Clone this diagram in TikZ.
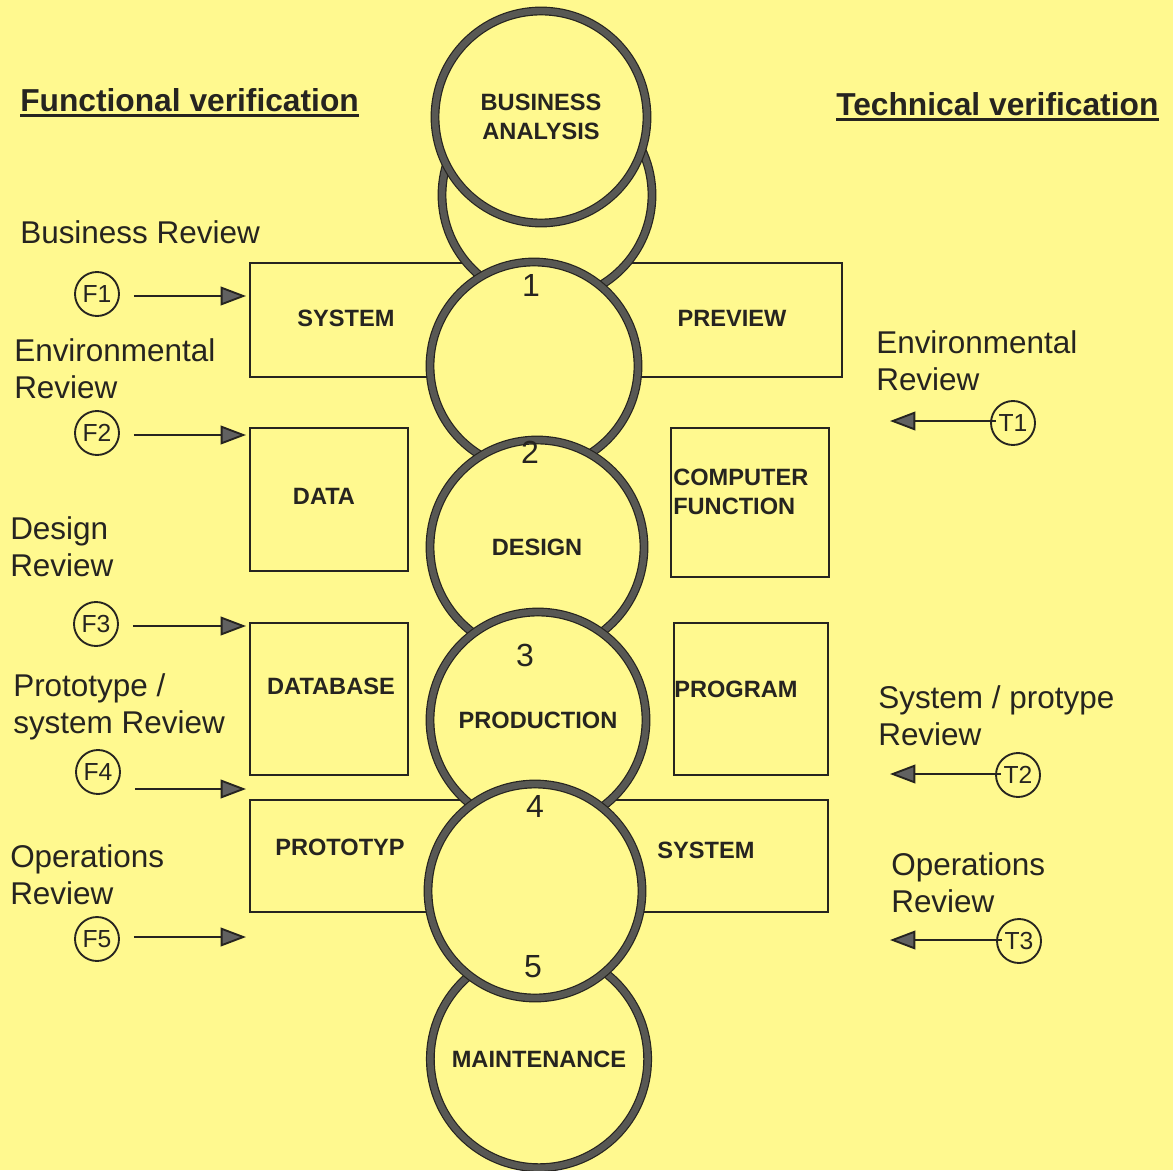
\documentclass[tikz,border=0pt]{standalone}
\usepackage{fontspec}
\setmainfont{Liberation Sans}
\usetikzlibrary{arrows.meta,calc}
\definecolor{bg}{HTML}{FFF98F}
\definecolor{ringc}{HTML}{585854}
\definecolor{ink}{HTML}{262420}
\begin{document}
\begin{tikzpicture}[x=0.75pt,y=-0.75pt,
  ring/.style={circle, draw=ink, line width=0.9pt, double=ringc, double distance=4.8pt, fill=bg, inner sep=0pt, text=ink, font=\fontsize{17.7}{21.5}\selectfont\bfseries, align=center},
  boxst/.style={draw=ink, line width=1.1pt, inner sep=0pt},
  boxlbl/.style={font=\fontsize{17.7}{21.75}\selectfont\bfseries, text=ink, inner sep=0pt, align=left},
  rev/.style={font=\fontsize{23.6}{27.75}\selectfont, text=ink, inner sep=0pt, anchor=west, align=left},
  head/.style={font=\fontsize{23.8}{28}\selectfont\bfseries, text=ink, inner sep=0pt, anchor=west},
  num/.style={font=\fontsize{24}{28}\selectfont, text=ink, inner sep=0pt},
  tag/.style={circle, draw=ink, line width=1.4pt, minimum size=33pt, inner sep=0pt, text=ink, font=\fontsize{18.5}{21}\selectfont},
  arr/.style={draw=ink, line width=1.4pt, -{Triangle[length=19pt,width=14pt,fill=black!62]}}
]
\useasboundingbox[fill=bg] (0,0) rectangle (1173,1170);

% headings
\node[head] (hf) at (20,100) {Functional verification};
\draw[ink, line width=2.2pt] ([yshift=-2.5pt]hf.south west) -- ([yshift=-2.5pt]hf.south east);
\node[head] (ht) at (836,104) {Technical verification};
\draw[ink, line width=2.2pt] ([yshift=-2.5pt]ht.south west) -- ([yshift=-2.5pt]ht.south east);

% boxes
\node[boxst, minimum width=444pt, minimum height=85.5pt] (topbox) at (546,320) {};
\node[boxst, minimum width=118.5pt, minimum height=107.25pt] (databox) at (329,499.5) {};
\node[boxst, minimum width=118.5pt, minimum height=111.75pt] (compbox) at (750,502.5) {};
\node[boxst, minimum width=118.5pt, minimum height=114pt] (dbbox) at (329,699) {};
\node[boxst, minimum width=115.5pt, minimum height=114pt] (progbox) at (751,699) {};
\node[boxst, minimum width=433.5pt, minimum height=84pt] (botbox) at (539,856) {};

% circles (back to front)
\node[ring, minimum size=157.5pt] (back) at (547,195) {};
\node[ring, minimum size=163pt] (maint) at (539,1059) {MAINTENANCE};
\node[ring, minimum size=159pt] (ba) at (541,117) {BUSINESS\\ANALYSIS};
\node[ring, minimum size=156pt] (c1) at (534,366) {};
\node[ring, minimum size=160.5pt] (c2) at (537,547) {DESIGN};
\node[ring, minimum size=162pt] (c3) at (538,720) {PRODUCTION};
\node[ring, minimum size=160.5pt] (c4) at (535,891) {};

% numbers
\node[num] (n1) at (531,285) {1};
\node[num] (n2) at (530,452) {2};
\node[num] (n3) at (525,655) {3};
\node[num] (n4) at (535,806) {4};
\node[num] (n5) at (533,967) {5};

% box labels
\node[boxlbl] (lsys) at (346,318) {SYSTEM};
\node[boxlbl] (lprev) at (732,318) {PREVIEW};
\node[boxlbl] (ldata) at (324,496) {DATA};
\node[boxlbl, anchor=west] (lcomp) at (673,492) {COMPUTER\\FUNCTION};
\node[boxlbl] (ldb) at (331,686) {DATABASE};
\node[boxlbl, anchor=west] (lprog) at (674,689) {PROGRAM};
\node[boxlbl] (lproto) at (340,847) {PROTOTYP};
\node[boxlbl] (lsys2) at (706,850) {SYSTEM};

% left review labels
\node[rev] (rb) at (20,232) {Business Review};
\node[rev] (re) at (14,369) {Environmental\\Review};
\node[rev] (rd) at (10,547) {Design\\Review};
\node[rev] (rp) at (13,707) {Prototype /\\system Review};
\node[rev] (ro) at (10,875) {Operations\\Review};

% right review labels
\node[rev] (rre) at (876,361) {Environmental\\Review};
\node[rev] (rrs) at (878,716) {System / protype\\Review};
\node[rev] (rro) at (891,883) {Operations\\Review};

% tags
\node[tag] (f1) at (97,294) {F1};
\node[tag] (f2) at (97,433) {F2};
\node[tag] (f3) at (96,624) {F3};
\node[tag] (f4) at (98,772) {F4};
\node[tag] (f5) at (97,939) {F5};
\node[tag] (t1) at (1013,423) {T1};
\node[tag] (t2) at (1018,775) {T2};
\node[tag] (t3) at (1019,941) {T3};

% arrow end points
\coordinate (e1) at (246,296);
\coordinate (e2) at (246,435);
\coordinate (e3) at (246,626);
\coordinate (e4) at (246,789);
\coordinate (e5) at (246,937);
\coordinate (r1) at (890,421);
\coordinate (r2) at (890,774);
\coordinate (r3) at (890,940);

\draw[arr] ($(f1.east |- e1)+(14,0)$) -- (e1);
\draw[arr] ($(f2.east |- e2)+(14,0)$) -- (e2);
\draw[arr] ($(f3.east |- e3)+(14,0)$) -- (e3);
\draw[arr] ($(f4.east |- e4)+(14,0)$) -- (e4);
\draw[arr] ($(f5.east |- e5)+(14,0)$) -- (e5);
\draw[arr] ($(t1.west |- r1)+(6,0)$) -- (r1);
\draw[arr] ($(t2.west |- r2)+(6,0)$) -- (r2);
\draw[arr] ($(t3.west |- r3)+(6,0)$) -- (r3);
\end{tikzpicture}
\end{document}
